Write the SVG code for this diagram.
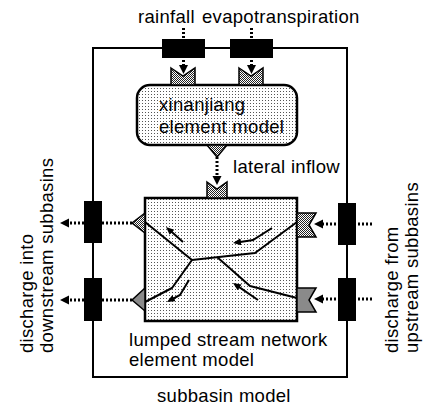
<svg xmlns="http://www.w3.org/2000/svg" width="423" height="412" viewBox="0 0 423 412">
  <defs>
    <!-- fine dot screen used for model boxes -->
    <pattern id="dots" width="3" height="3" patternUnits="userSpaceOnUse">
      <rect width="3" height="3" fill="#fff"/>
      <rect x="1" y="1" width="1" height="1" fill="#555"/>
    </pattern>
    <!-- checker screen used for ports -->
    <pattern id="check" width="2" height="2" patternUnits="userSpaceOnUse">
      <rect width="2" height="2" fill="#fff"/>
      <rect width="1" height="1" fill="#222"/>
      <rect x="1" y="1" width="1" height="1" fill="#222"/>
    </pattern>
    <marker id="head" markerUnits="userSpaceOnUse" markerWidth="10" markerHeight="10" refX="1" refY="4.5" orient="auto">
      <path d="M0,0 L9,4.5 L0,9 z" fill="#000"/>
    </marker>
    <marker id="small" markerUnits="userSpaceOnUse" markerWidth="9" markerHeight="8" refX="4" refY="3.5" orient="auto">
      <path d="M0,0 L8,3.5 L0,7 z" fill="#000"/>
    </marker>
  </defs>
  <style>
    text { font-family: "Liberation Sans", Arial, sans-serif; font-size: 18.5px; fill: #000; letter-spacing: 0.3px; }
    .frame { fill: none; stroke: #000; stroke-width: 2; }
    .box { fill: url(#dots); stroke: #000; stroke-width: 2.5; }
    .io { fill: #000; }
    .port { fill: url(#check); stroke: #000; stroke-width: 1.5; stroke-linejoin: miter; }
    .portg { fill: #8a8a8a; stroke: #000; stroke-width: 1.5; }
    .flow { fill: none; stroke: #000; stroke-width: 3; stroke-dasharray: 2 2; marker-end: url(#head); }
    .stream { fill: none; stroke: #000; stroke-width: 2; stroke-linejoin: round; }
    .dir { fill: none; stroke: #000; stroke-width: 2; marker-end: url(#small); }
  </style>

  <rect width="423" height="412" fill="#fff"/>

  <!-- subbasin frame -->
  <g id="subbasin">
    <rect class="frame" x="93" y="48" width="254" height="329"/>
    <text x="157" y="402">subbasin model</text>
  </g>

  <!-- dotted flow connectors -->
  <g id="connectors">
    <line class="flow" x1="183.5" y1="28" x2="183.5" y2="66"/>
    <line class="flow" x1="251.5" y1="28" x2="251.5" y2="66"/>
    <line class="flow" x1="217" y1="157" x2="217" y2="177"/>
    <line class="flow" x1="132" y1="223" x2="68" y2="223"/>
    <line class="flow" x1="132" y1="300" x2="68" y2="300"/>
    <line class="flow" x1="372" y1="224" x2="322" y2="224"/>
    <line class="flow" x1="372" y1="299" x2="322" y2="299"/>
  </g>

  <!-- boundary inputs / outputs on the frame -->
  <g id="rainfall-in">
    <rect class="io" x="162" y="39" width="43" height="19"/>
    <text x="138" y="23">rainfall</text>
  </g>
  <g id="evap-in">
    <rect class="io" x="230" y="39" width="43" height="19"/>
    <text x="202" y="23">evapotranspiration</text>
  </g>
  <g id="downstream-out">
    <rect class="io" x="84" y="201" width="18" height="42"/>
    <rect class="io" x="84" y="278" width="18" height="43"/>
    <text transform="translate(33,353) rotate(-90)">discharge into</text>
    <text transform="translate(53,353) rotate(-90)">downstream subbasins</text>
  </g>
  <g id="upstream-in">
    <rect class="io" x="338" y="203" width="18" height="42"/>
    <rect class="io" x="338" y="278" width="18" height="43"/>
    <text transform="translate(398,353) rotate(-90)">discharge from</text>
    <text transform="translate(418,353) rotate(-90)">upstream subbasins</text>
  </g>

  <!-- xinanjiang element model -->
  <g id="xinanjiang">
    <rect class="box" x="137" y="85" width="160" height="60" rx="13" ry="13"/>
    <polygon class="port" points="171,68 183,76 195,68 195,85 171,85"/>
    <polygon class="port" points="239,68 251,76 263,68 263,85 239,85"/>
    <polygon class="port" points="207,145 227,145 217,157"/>
    <text x="159" y="111">xinanjiang</text>
    <text x="159" y="133">element model</text>
  </g>

  <text x="233" y="173">lateral inflow</text>

  <!-- lumped stream network element model -->
  <g id="stream-network">
    <rect class="box" x="145" y="198" width="152" height="123" stroke-width="3"/>
    <polyline class="stream" points="145,222 192,260"/>
    <polyline class="stream" points="192,260 255,253 297,222"/>
    <polyline class="stream" points="192,260 172,288 145,302"/>
    <polyline class="stream" points="217,257 250,286 297,298"/>
    <polyline class="dir" points="183,242 169,229.6"/>
    <polyline class="dir" points="272,228 253,240 237,242.4"/>
    <polyline class="dir" points="189,280 180,295 170.5,300.1"/>
    <polyline class="dir" points="258,300 236.3,285.2"/>
    <polygon class="port" points="207,182 217,189 227,182 227,198 207,198"/>
    <polygon class="port" points="145,213 132,223 145,233"/>
    <polygon class="portg" points="145,288 132,300 145,311"/>
    <polygon class="port" points="297,213 316,213 309,225 316,237 297,237"/>
    <polygon class="portg" points="297,288 316,288 309,300 316,312 297,312"/>
    <text x="129" y="346">lumped stream network</text>
    <text x="129" y="366">element model</text>
  </g>
</svg>
